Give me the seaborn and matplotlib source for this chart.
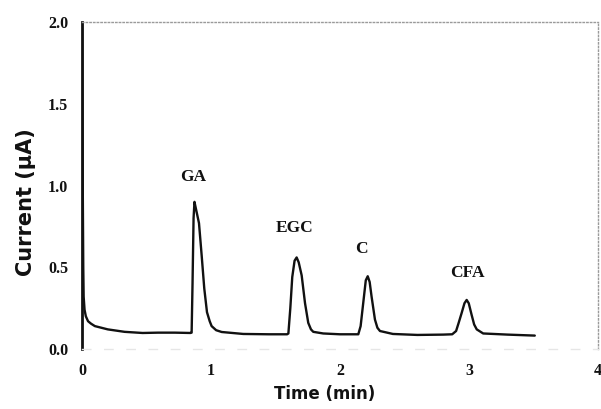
import matplotlib
matplotlib.use("Agg")
import matplotlib.pyplot as plt
import seaborn as sns
import pandas as pd

# Electropherogram trace: migration time (min) and detector current (µA)
time_min = [0.0, 0.006, 0.010, 0.013, 0.020, 0.030, 0.047, 0.070, 0.10, 0.15,
            0.20, 0.33, 0.47, 0.59, 0.72, 0.84, 0.850, 0.857, 0.865, 0.872,
            0.880, 0.907, 0.928, 0.948, 0.969, 0.990, 1.005, 1.04, 1.083, 1.25,
            1.45, 1.59, 1.600, 1.615, 1.630, 1.648, 1.664, 1.680, 1.703, 1.729,
            1.754, 1.775, 1.793, 1.87, 2.00, 2.142, 2.160, 2.180, 2.200, 2.215,
            2.230, 2.245, 2.271, 2.290, 2.31, 2.41, 2.60, 2.80, 2.87, 2.90,
            2.92, 2.943, 2.965, 2.982, 2.998, 3.02, 3.04, 3.06, 3.11, 3.30, 3.51]
current_uA = [2.00, 1.00, 0.50, 0.32, 0.24, 0.20, 0.17, 0.155, 0.14, 0.13,
              0.12, 0.105, 0.098, 0.100, 0.100, 0.098, 0.10, 0.40, 0.80, 0.90,
              0.87, 0.77, 0.57, 0.37, 0.225, 0.17, 0.14, 0.115, 0.104, 0.092,
              0.090, 0.090, 0.095, 0.25, 0.44, 0.54, 0.56, 0.53, 0.45, 0.28,
              0.16, 0.12, 0.105, 0.095, 0.090, 0.090, 0.14, 0.28, 0.42, 0.445,
              0.41, 0.32, 0.18, 0.13, 0.11, 0.092, 0.086, 0.088, 0.090, 0.11,
              0.16, 0.22, 0.28, 0.30, 0.28, 0.21, 0.15, 0.12, 0.095, 0.088, 0.082]

# Peak annotations
peak_names = ["GA", "EGC", "C", "CFA"]
peak_label_x = [0.86, 1.65, 2.17, 2.99]
peak_label_y = [1.05, 0.74, 0.61, 0.465]

x_ticks = [0, 1, 2, 3, 4]
y_ticks = [0.0, 0.5, 1.0, 1.5, 2.0]

sns.set_theme(style="white")
plt.rcParams["font.family"] = ["Liberation Serif", "DejaVu Serif"]
plt.rcParams["font.weight"] = "bold"

fig = plt.figure(figsize=(6.01, 4.09), dpi=100)
ax = fig.add_axes([0.1364, 0.1467, 0.8586, 0.7995])

df = pd.DataFrame({"Time": time_min, "Current": current_uA})
sns.lineplot(data=df, x="Time", y="Current", ax=ax, sort=False,
             estimator=None, color="#111111", linewidth=1.7)

for name, tx, ty in zip(peak_names, peak_label_x, peak_label_y):
    ax.text(tx, ty, name, ha="center", va="center", fontsize=12.5,
            fontweight="bold", color="#111111")

ax.set_xlim(0, 4)
ax.set_ylim(0, 2.0)
ax.set_xticks(x_ticks)
ax.set_xticklabels([str(t) for t in x_ticks])
ax.set_yticks(y_ticks)
ax.set_yticklabels([f"{v:.1f}" for v in y_ticks])
ax.tick_params(axis="both", length=0, labelsize=11.5, colors="#111111")
ax.tick_params(axis="y", pad=10)
ax.tick_params(axis="x", pad=10)
for lbl in ax.get_xticklabels() + ax.get_yticklabels():
    lbl.set_fontweight("bold")

label_font = ["DejaVu Sans"]
ax.set_xlabel("Time (min)", fontsize=12, fontweight="bold", color="#111111",
              family=label_font)
ax.xaxis.set_label_coords(0.47, -0.11)
ax.set_ylabel("Current (µA)", fontsize=15, fontweight="bold", color="#111111",
              family=label_font)
ax.yaxis.set_label_coords(-0.09, 0.45)

ax.spines["left"].set_color("#111111")
ax.spines["left"].set_linewidth(2.0)
for side in ("top", "right"):
    ax.spines[side].set_color("#9a9a9a")
    ax.spines[side].set_linestyle(":")
    ax.spines[side].set_linewidth(1.0)
ax.spines["bottom"].set_color("#e6e6e6")
ax.spines["bottom"].set_linestyle((0, (6, 10)))
ax.spines["bottom"].set_linewidth(1.0)
ax.grid(False)

fig.savefig("out.png", dpi=100, facecolor="white")
